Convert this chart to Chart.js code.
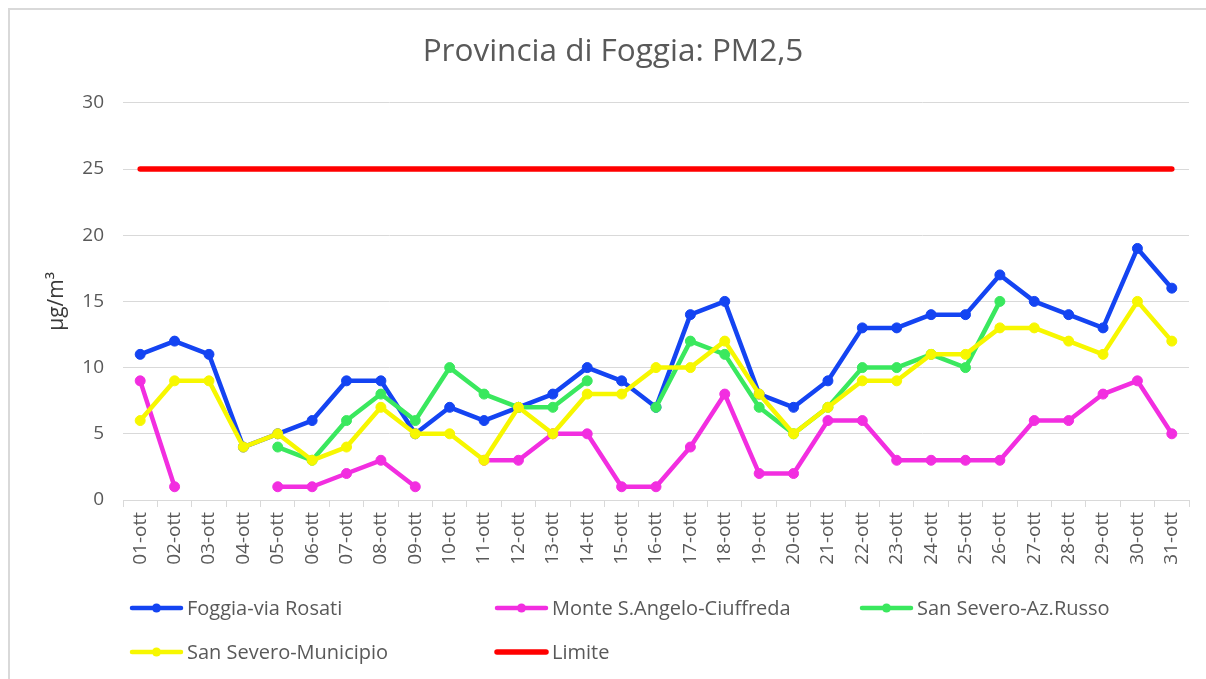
<!DOCTYPE html>
<html lang="it">
<head>
<meta charset="utf-8">
<title>Provincia di Foggia: PM2,5</title>
<script src="https://cdn.jsdelivr.net/npm/chart.js@4.4.0/dist/chart.umd.min.js"></script>
<style>
  html, body { margin: 0; padding: 0; background: #fff; }
  #wrap { position: relative; width: 1206px; height: 679px; overflow: hidden; }
  #frame {
    position: absolute; left: 8px; top: 8px; width: 1300px; height: 800px;
    border: 2px solid #d9d9d9; box-sizing: border-box;
  }
  canvas { position: absolute; left: 0; top: 0; }
</style>
</head>
<body>
<div id="wrap">
  <div id="frame"></div>
  <canvas id="chart" width="1206" height="679"></canvas>
</div>
<script>
"use strict";

// ─── Data (µg/m³, daily means, October) ───────────────────────
const days = [
  "01-ott", "02-ott", "03-ott", "04-ott", "05-ott", "06-ott", "07-ott", "08-ott",
  "09-ott", "10-ott", "11-ott", "12-ott", "13-ott", "14-ott", "15-ott", "16-ott",
  "17-ott", "18-ott", "19-ott", "20-ott", "21-ott", "22-ott", "23-ott", "24-ott",
  "25-ott", "26-ott", "27-ott", "28-ott", "29-ott", "30-ott", "31-ott",
];

const foggiaRosati = [11, 12, 11, 4, 5, 6, 9, 9, 5, 7, 6, 7, 8, 10, 9, 7,
  14, 15, 8, 7, 9, 13, 13, 14, 14, 17, 15, 14, 13, 19, 16];

const monteSAngelo = [9, 1, null, null, 1, 1, 2, 3, 1, null, 3, 3, 5, 5, 1, 1,
  4, 8, 2, 2, 6, 6, 3, 3, 3, 3, 6, 6, 8, 9, 5];

const sanSeveroRusso = [null, null, null, null, 4, 3, 6, 8, 6, 10, 8, 7, 7, 9, null, 7,
  12, 11, 7, 5, 7, 10, 10, 11, 10, 15, null, null, null, null, null];

const sanSeveroMunicipio = [6, 9, 9, 4, 5, 3, 4, 7, 5, 5, 3, 7, 5, 8, 8, 10,
  10, 12, 8, 5, 7, 9, 9, 11, 11, 13, 13, 12, 11, 15, 12];

const limite = days.map(() => 25); // fixed annual limit

const yTicks = { min: 0, max: 30, step: 5 };

// ─── Style ────────────────────────────────────────────────────
const FONT = "'Open Sans', 'Noto Sans', sans-serif";
const grey = "#595959";
const gridGrey = "#d9d9d9";

Chart.defaults.font.family = FONT;
Chart.defaults.color = grey;

function series(label, data, color, order) {
  return {
    label,
    data,
    order,
    borderColor: color,
    backgroundColor: color,
    pointBackgroundColor: color,
    pointBorderColor: color,
    borderWidth: 4.5,
    pointRadius: 5,
    pointBorderWidth: 1,
    pointHoverRadius: 5,
    tension: 0,
    spanGaps: false,
    borderCapStyle: "round",
    borderJoinStyle: "round",
  };
}

const datasets = [
  series("Foggia-via Rosati", foggiaRosati, "#1444f2", 4),
  series("Monte S.Angelo-Ciuffreda", monteSAngelo, "#f22ee0", 3),
  series("San Severo-Az.Russo", sanSeveroRusso, "#3ae85e", 2),
  series("San Severo-Municipio", sanSeveroMunicipio, "#f7f700", 1),
  Object.assign(series("Limite", limite, "#ff0000", 5), {
    borderWidth: 5.5,
    pointRadius: 0,
    pointHoverRadius: 0,
  }),
];

// ─── Legend: 3-column grid under the axis, Excel style ───────
const legendGrid = { left: 130, top: 608, colWidth: 365, rowHeight: 44, lineLen: 53 };

const gridLegend = {
  id: "gridLegend",
  afterDraw(chart) {
    const ctx = chart.ctx;
    ctx.save();
    ctx.font = `20px ${FONT}`;
    ctx.textBaseline = "middle";
    chart.data.datasets.forEach((ds, i) => {
      const x = legendGrid.left + (i % 3) * legendGrid.colWidth;
      const y = legendGrid.top + Math.floor(i / 3) * legendGrid.rowHeight;
      ctx.strokeStyle = ds.borderColor;
      ctx.lineWidth = ds.borderWidth;
      ctx.lineCap = "round";
      ctx.beginPath();
      ctx.moveTo(x + 2, y);
      ctx.lineTo(x + legendGrid.lineLen - 2, y);
      ctx.stroke();
      if (ds.pointRadius > 0) {
        ctx.fillStyle = ds.borderColor;
        ctx.beginPath();
        ctx.arc(x + legendGrid.lineLen / 2, y, 4.5, 0, Math.PI * 2);
        ctx.fill();
      }
      ctx.fillStyle = grey;
      ctx.fillText(ds.label, x + legendGrid.lineLen + 4, y + 1);
    });
    ctx.restore();
  },
};

new Chart(document.getElementById("chart"), {
  type: "line",
  data: { labels: days, datasets },
  plugins: [gridLegend],
  options: {
    responsive: false,
    animation: false,
    // left padding pushes the title's centre right, like the Excel original
    layout: { padding: { left: 37, right: 17, top: 0, bottom: 99 } },
    plugins: {
      legend: { display: false },
      tooltip: { enabled: false },
      title: {
        display: true,
        text: "Provincia di Foggia: PM2,5",
        color: grey,
        font: { size: 31.5, weight: "normal", family: FONT },
        padding: { top: 33, bottom: 32 },
      },
    },
    scales: {
      x: {
        offset: true,
        afterFit: (s) => { s.height = 80; },
        border: { color: gridGrey, width: 1 },
        grid: {
          offset: true,
          drawOnChartArea: false,
          drawTicks: true,
          tickLength: 7,
          color: gridGrey,
        },
        ticks: {
          color: grey,
          font: { size: 19 },
          minRotation: 90,
          maxRotation: 90,
          autoSkip: false,
          padding: 5,
        },
      },
      y: {
        min: yTicks.min,
        max: yTicks.max,
        afterFit: (s) => { s.width = 86; },
        border: { display: false },
        grid: { color: gridGrey, lineWidth: 1, drawTicks: false },
        ticks: {
          stepSize: yTicks.step,
          color: grey,
          font: { size: 19 },
          padding: 19,
        },
        title: {
          display: true,
          text: "µg/m³",
          color: "#3a3a3a",
          font: { size: 21 },
          padding: { top: 7, bottom: 0 },
        },
      },
    },
  },
});
</script>
</body>
</html>
